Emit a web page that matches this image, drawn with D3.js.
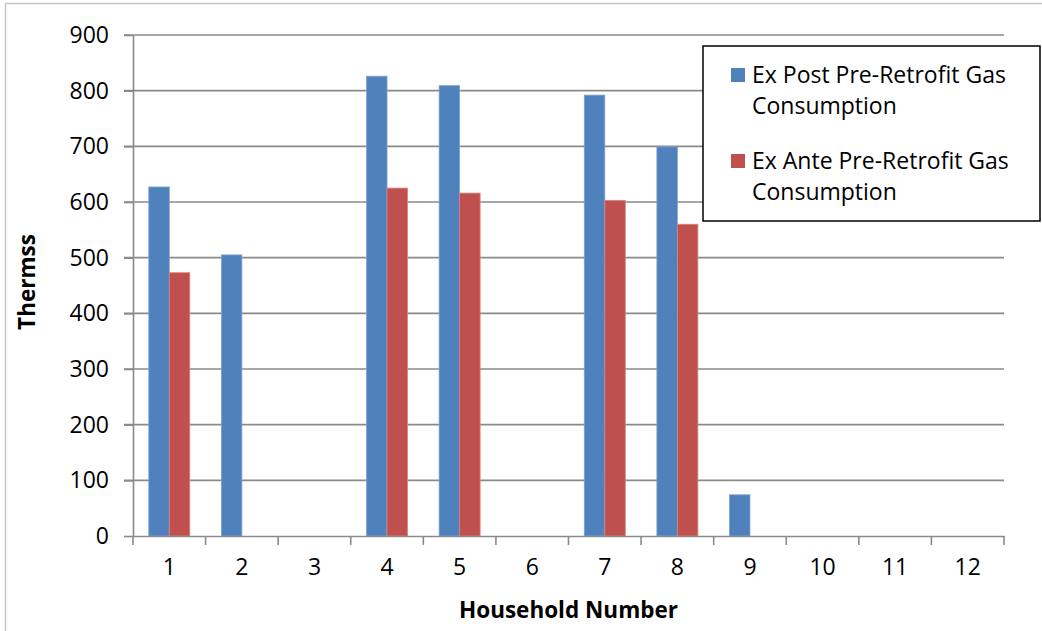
<!DOCTYPE html>
<html>
<head>
<meta charset="utf-8">
<script src="https://cdn.jsdelivr.net/npm/d3@7"></script>
<style>
  html, body { margin: 0; padding: 0; background: #fff; }
  svg { display: block; }
  text { font-family: "Open Sans", "Liberation Sans", Arial, sans-serif; }
</style>
</head>
<body>
<svg id="chart" width="1042" height="631"></svg>
<script>
const categories = ["1","2","3","4","5","6","7","8","9","10","11","12"];
const exPost = [627, 505, 0, 826, 809, 0, 792, 699, 74, 0, 0, 0];
const exAnte = [473, 0, 0, 625, 616, 0, 603, 560, 0, 0, 0, 0];
const seriesNames = ["Ex Post Pre-Retrofit Gas Consumption", "Ex Ante Pre-Retrofit Gas Consumption"];
const legendLines = [["Ex Post Pre-Retrofit Gas", "Consumption"], ["Ex Ante Pre-Retrofit Gas", "Consumption"]];
const yTicks = [0, 100, 200, 300, 400, 500, 600, 700, 800, 900];
const colors = ["#4F81BD", "#C0504D"];
const strokes = ["#7FA3D1", "#D68683"];

(function () {
const FONT = "Open Sans, Liberation Sans, Arial, sans-serif";
const svg = d3.select("#chart");
const pLeft = 133, pRight = 1004, pTop = 35, pBottom = 536;

// outer chart border (left & top visible)
svg.append("path").attr("d", "M5.5,631 L5.5,3.5 L1042,3.5")
  .attr("fill", "none").attr("stroke", "#c6c6c6").attr("stroke-width", 1.5);

const x = d3.scaleBand().domain(categories).range([pLeft, pRight]).paddingInner(0).paddingOuter(0);
const y = d3.scaleLinear().domain([0, 900]).range([pBottom, pTop]);
const x1 = d3.scaleBand().domain([0, 1]).range([0, x.bandwidth()]).paddingInner(0).paddingOuter(0.77);

// gridlines
svg.append("g").selectAll("line").data(yTicks.filter(d => d > 0)).join("line")
  .attr("x1", pLeft - 9).attr("x2", pRight)
  .attr("y1", d => y(d)).attr("y2", d => y(d))
  .attr("stroke", "#8a8a8a").attr("stroke-width", 1.6);

// bars
const data = [exPost, exAnte];
const g = svg.append("g");
data.forEach((vals, si) => {
  g.selectAll(".s" + si).data(vals.map((v, i) => ({v, c: categories[i]})).filter(d => d.v > 0)).join("rect")
    .attr("class", "s" + si)
    .attr("x", d => x(d.c) + x1(si))
    .attr("y", d => y(d.v))
    .attr("width", x1.bandwidth())
    .attr("height", d => y(0) - y(d.v))
    .attr("fill", colors[si])
    .attr("stroke", strokes[si]).attr("stroke-width", 0.8);
});

// y axis
const yAxis = d3.axisLeft(y).tickValues(yTicks).tickSize(9).tickPadding(15).tickSizeOuter(0);
const ya = svg.append("g").attr("transform", `translate(${pLeft},0)`).call(yAxis);
ya.select(".domain").attr("stroke", "#8a8a8a").attr("stroke-width", 1.6);
ya.selectAll(".tick line").attr("stroke", "#8a8a8a").attr("stroke-width", 1.6);
ya.selectAll(".tick text").attr("font-size", 23).attr("fill", "#000").attr("font-family", FONT);

// x axis
const xa = svg.append("g").attr("transform", `translate(0,${pBottom})`)
  .call(d3.axisBottom(x).tickSize(0).tickPadding(23).tickSizeOuter(0));
xa.select(".domain").attr("stroke", "#8a8a8a").attr("stroke-width", 1.6);
xa.selectAll(".tick text").attr("font-size", 23).attr("fill", "#000").attr("font-family", FONT);
// category boundary ticks
const edges = categories.map(c => x(c)).concat([pRight]);
svg.append("g").selectAll("line").data(edges).join("line")
  .attr("x1", d => d).attr("x2", d => d)
  .attr("y1", pBottom).attr("y2", pBottom + 9)
  .attr("stroke", "#8a8a8a").attr("stroke-width", 1.6);

// axis titles
svg.append("text").attr("x", (pLeft + pRight) / 2).attr("y", 618)
  .attr("text-anchor", "middle").attr("font-weight", "bold").attr("font-size", 22.5)
  .attr("font-family", FONT).text("Household Number");
svg.append("text").attr("transform", "translate(35,282) rotate(-90)")
  .attr("text-anchor", "middle").attr("font-weight", "bold").attr("font-size", 22.5)
  .attr("font-family", FONT).text("Thermss");

// legend
const lg = svg.append("g");
lg.append("rect").attr("x", 703).attr("y", 46).attr("width", 337).attr("height", 175)
  .attr("fill", "#fff").attr("stroke", "#000").attr("stroke-width", 1.5);
const legendY = [68, 154];
seriesNames.forEach((name, i) => {
  lg.append("rect").attr("x", 731).attr("y", legendY[i]).attr("width", 14).attr("height", 14)
    .attr("fill", colors[i]);
  const t = lg.append("text").attr("x", 752).attr("y", legendY[i] + 15).attr("font-size", 23)
    .attr("font-family", FONT);
  legendLines[i].forEach((ln, j) => {
    t.append("tspan").attr("x", 752).attr("dy", j === 0 ? 0 : 31).text(ln);
  });
});
})();
</script>
</body>
</html>
